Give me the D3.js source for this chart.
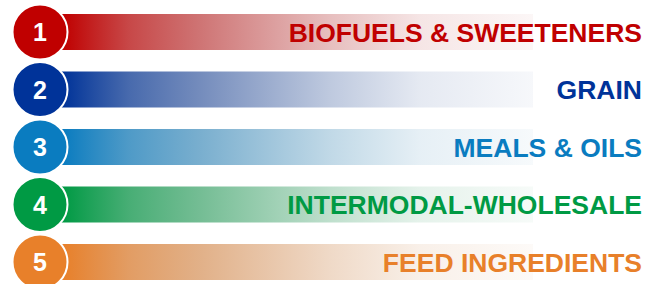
<!DOCTYPE html>
<html lang="en">
<head>
<meta charset="UTF-8">
<title>Business segments</title>
<style>
  body { margin: 0; padding: 0; background: #fff; font-family: "Liberation Sans", Arial, sans-serif; }
  svg { display: block; }
</style>
</head>
<body>
<div id="chart"></div>
<script src="https://d3js.org/d3.v7.min.js"></script>
<script>
  const numbers = [1, 2, 3, 4, 5];
  const labels = ["BIOFUELS & SWEETENERS", "GRAIN", "MEALS & OILS", "INTERMODAL-WHOLESALE", "FEED INGREDIENTS"];
  const palette = ["#c00000", "#003399", "#0a7cc0", "#009a44", "#e8802a"];

  const width = 657, height = 284;

  const svg = d3.select("#chart").append("svg")
    .attr("width", width)
    .attr("height", height);

  const y = d3.scalePoint().domain(numbers).range([32, 262]);
  const color = d3.scaleOrdinal().domain(numbers).range(palette);

  // fade profile of the ribbons: offset, opacity, how much grey is mixed in
  const fade = [[0, 1, 0], [0.14, 0.78, 0.15], [0.29, 0.63, 0.25], [0.57, 0.3, 0.3], [0.76, 0.12, 0.3], [1, 0.04, 0.3]];

  const defs = svg.append("defs");
  numbers.forEach(n => {
    const g = defs.append("linearGradient")
      .attr("id", "grad" + n)
      .attr("gradientUnits", "userSpaceOnUse")
      .attr("x1", 63).attr("x2", 533).attr("y1", 0).attr("y2", 0);
    fade.forEach(s => {
      g.append("stop")
        .attr("offset", s[0])
        .attr("stop-color", d3.interpolateRgb(color(n), "#888888")(s[2]))
        .attr("stop-opacity", s[1]);
    });
  });

  const rows = svg.selectAll(".row")
    .data(numbers)
    .enter().append("g")
    .attr("class", "row")
    .attr("transform", d => "translate(0," + y(d) + ")");

  rows.append("rect")
    .attr("x", 58)
    .attr("y", -18)
    .attr("width", 475)
    .attr("height", 36)
    .attr("fill", d => "url(#grad" + d + ")");

  rows.append("circle")
    .attr("cx", 40)
    .attr("r", 27.5)
    .attr("fill", d => color(d))
    .attr("stroke", "#fff")
    .attr("stroke-width", 2);

  rows.append("text")
    .attr("x", 40)
    .attr("dy", "0.36em")
    .attr("text-anchor", "middle")
    .attr("fill", "#fff")
    .style("font-weight", "bold")
    .style("font-size", "25px")
    .text(d => d);

  rows.append("text")
    .attr("x", 642)
    .attr("dy", "0.36em")
    .attr("text-anchor", "end")
    .attr("fill", d => color(d))
    .style("font-weight", "bold")
    .style("font-size", "26.5px")
    .text((d, i) => labels[i]);
</script>
</body>
</html>
